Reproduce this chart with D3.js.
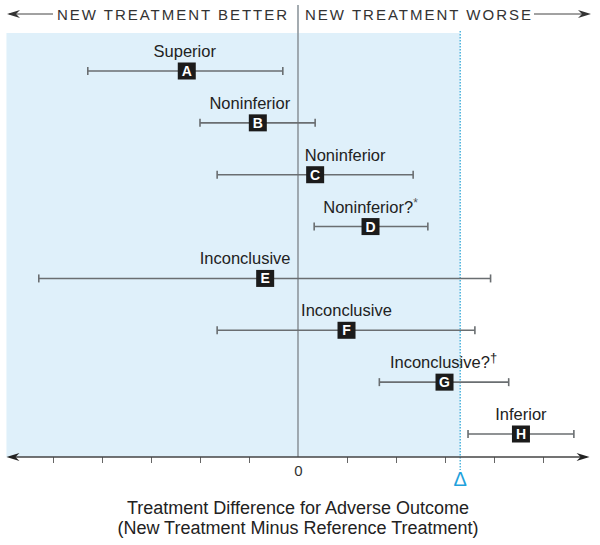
<!DOCTYPE html>
<html>
<head>
<meta charset="utf-8">
<script src="https://cdn.jsdelivr.net/npm/d3@7"></script>
<style>
  body { margin: 0; background: #fff; }
  svg { display: block; font-family: "Liberation Sans", Arial, sans-serif; }
</style>
</head>
<body>
<div class="D3"></div>
<script>
// trial letters, verdict labels and confidence intervals (treatment difference units)
var trials = ["A", "B", "C", "D", "E", "F", "G", "H"];
var verdicts = ["Superior", "Noninferior", "Noninferior", "Noninferior?", "Inconclusive", "Inconclusive", "Inconclusive?", "Inferior"];
var footMarks = ["", "", "", "*", "", "", "\u2020", ""];
var estimates = [-2.27, -0.82, 0.35, 1.48, -0.67, 0.99, 2.99, 4.55];
var lowerCI = [-4.29, -2.0, -1.65, 0.33, -5.29, -1.65, 1.66, 3.47];
var upperCI = [-0.31, 0.35, 2.35, 2.65, 3.93, 3.61, 4.30, 5.63];
var margin_delta = 3.31;
var tickValues = [-5, -4, -3, -2, -1, 0, 1, 2, 3, 4, 5];
var axisTitle = ["Treatment Difference for Adverse Outcome", "(New Treatment Minus Reference Treatment)"];

var svgWidth = 600;
var svgHeight = 545;

var svg = d3.select(".D3")
  .append("svg")
  .attr("width", svgWidth)
  .attr("height", svgHeight);

//x scale: zero sits at 298, one unit ~49px
var xScale = d3.scaleLinear()
  .domain([-5, 5])
  .range([53, 543]);
var axisEnds = [-5.95, 5.95];

//one row per trial
var yScale = d3.scalePoint()
  .domain(trials)
  .range([71, 434]);

var axisY = 457;
var topY = 33;

//shaded "noninferior" region left of delta
svg.append("rect")
  .attr("x", xScale(axisEnds[0]))
  .attr("y", topY)
  .attr("width", xScale(margin_delta) - xScale(axisEnds[0]))
  .attr("height", axisY - topY)
  .attr("fill", "#dff0fa");

//arrowhead helper, tip at (x,y), dir = -1 left, 1 right
function arrowHead(x, y, dir) {
  var l = 13, h = 4, back = 4;
  return "M" + x + "," + y +
    "L" + (x - dir * l) + "," + (y - h) +
    "L" + (x - dir * (l - back)) + "," + y +
    "L" + (x - dir * l) + "," + (y + h) + "Z";
}

//header: arrows and direction labels
var headY = 14;
var header = svg.append("g");
header.append("line")
  .attr("x1", 9).attr("x2", 53)
  .attr("y1", headY).attr("y2", headY)
  .attr("stroke", "#444").attr("stroke-width", 1);
header.append("path").attr("d", arrowHead(7, headY, -1)).attr("fill", "#333");
header.append("line")
  .attr("x1", 534).attr("x2", 588)
  .attr("y1", headY).attr("y2", headY)
  .attr("stroke", "#444").attr("stroke-width", 1);
header.append("path").attr("d", arrowHead(591, headY, 1)).attr("fill", "#333");

header.append("text")
  .attr("x", 57)
  .attr("y", 19.5)
  .attr("textLength", 230)
  .attr("lengthAdjust", "spacing")
  .attr("font-size", 15)
  .attr("fill", "#333")
  .text("NEW TREATMENT BETTER");
header.append("text")
  .attr("x", 305)
  .attr("y", 19.5)
  .attr("textLength", 226)
  .attr("lengthAdjust", "spacing")
  .attr("font-size", 15)
  .attr("fill", "#333")
  .text("NEW TREATMENT WORSE");

//zero line
svg.append("line")
  .attr("x1", xScale(0)).attr("x2", xScale(0))
  .attr("y1", 5).attr("y2", axisY)
  .attr("stroke", "#8e979d")
  .attr("stroke-width", 1.6);

//delta dotted line
svg.append("line")
  .attr("x1", xScale(margin_delta)).attr("x2", xScale(margin_delta))
  .attr("y1", 31).attr("y2", 470)
  .attr("stroke", "#27a3d6")
  .attr("stroke-width", 1.2)
  .attr("stroke-dasharray", "1.5,1.5");

//bottom axis
var bottomAxis = d3.axisBottom(xScale)
  .tickValues(tickValues)
  .tickSize(6)
  .tickSizeOuter(0)
  .tickFormat(d => d === 0 ? "0" : "");

var xAxis = svg.append("g")
  .attr("transform", `translate(0, ${axisY})`)
  .call(bottomAxis);
xAxis.select(".domain").remove();
xAxis.selectAll(".tick line").attr("stroke", "#666");
xAxis.selectAll(".tick").filter(d => d === 0).select("line").remove();
xAxis.selectAll(".tick text")
  .attr("y", 8)
  .attr("font-size", 15)
  .attr("font-family", "Liberation Sans, Arial, sans-serif")
  .attr("fill", "#333");

svg.append("line")
  .attr("x1", xScale(axisEnds[0]) + 3).attr("x2", xScale(axisEnds[1]) - 3)
  .attr("y1", axisY).attr("y2", axisY)
  .attr("stroke", "#444").attr("stroke-width", 1.3);
svg.append("path").attr("d", arrowHead(xScale(axisEnds[0]), axisY, -1)).attr("fill", "#222");
svg.append("path").attr("d", arrowHead(xScale(axisEnds[1]), axisY, 1)).attr("fill", "#222");

//delta symbol
svg.append("text")
  .attr("x", xScale(margin_delta))
  .attr("y", 486)
  .attr("text-anchor", "middle")
  .attr("font-size", 20)
  .attr("fill", "#1fa2dc")
  .text("\u0394");

//axis title
svg.append("g").selectAll("text")
  .data(axisTitle)
  .enter()
  .append("text")
  .attr("x", xScale(0))
  .attr("y", (d, i) => 514 + i * 20)
  .attr("text-anchor", "middle")
  .attr("font-size", 18)
  .attr("fill", "#222")
  .text(d => d);

//rows
var rows = trials.map((t, i) => ({
  id: t, label: verdicts[i], mark: footMarks[i],
  est: estimates[i], lo: lowerCI[i], hi: upperCI[i]
}));

//nudge some labels off-centre so they clear the zero line (px)
var labelNudge = { A: -2, B: -8, C: 30, E: -20, G: -1 };

var rowGroup = svg.selectAll(".row")
  .data(rows)
  .enter()
  .append("g")
  .classed("row", true)
  .attr("transform", d => `translate(0, ${yScale(d.id)})`);

rowGroup.append("line")
  .attr("x1", d => xScale(d.lo)).attr("x2", d => xScale(d.hi))
  .attr("stroke", "#6a6e71").attr("stroke-width", 1.6);
rowGroup.append("line")
  .attr("x1", d => xScale(d.lo)).attr("x2", d => xScale(d.lo))
  .attr("y1", -4).attr("y2", 4)
  .attr("stroke", "#6a6e71").attr("stroke-width", 1.6);
rowGroup.append("line")
  .attr("x1", d => xScale(d.hi)).attr("x2", d => xScale(d.hi))
  .attr("y1", -4).attr("y2", 4)
  .attr("stroke", "#6a6e71").attr("stroke-width", 1.6);

rowGroup.append("rect")
  .attr("x", d => xScale(d.est) - 9)
  .attr("y", -8.5)
  .attr("width", 18)
  .attr("height", 17)
  .attr("fill", "#1b1b1b");
rowGroup.append("text")
  .attr("x", d => xScale(d.est))
  .attr("y", 5)
  .attr("text-anchor", "middle")
  .attr("font-size", 14)
  .attr("font-weight", "bold")
  .attr("fill", "#fff")
  .text(d => d.id);

var labels = rowGroup.append("text")
  .attr("x", d => xScale(d.est) + (labelNudge[d.id] || 0))
  .attr("y", -14)
  .attr("text-anchor", "middle")
  .attr("font-size", 16.5)
  .attr("fill", "#222");
labels.append("tspan").text(d => d.label);
labels.append("tspan")
  .attr("dy", -6)
  .attr("font-size", d => d.mark === "*" ? 12 : 13)
  .attr("fill", d => d.mark === "*" ? "#555" : "#222")
  .text(d => d.mark);
</script>
</body>
</html>
